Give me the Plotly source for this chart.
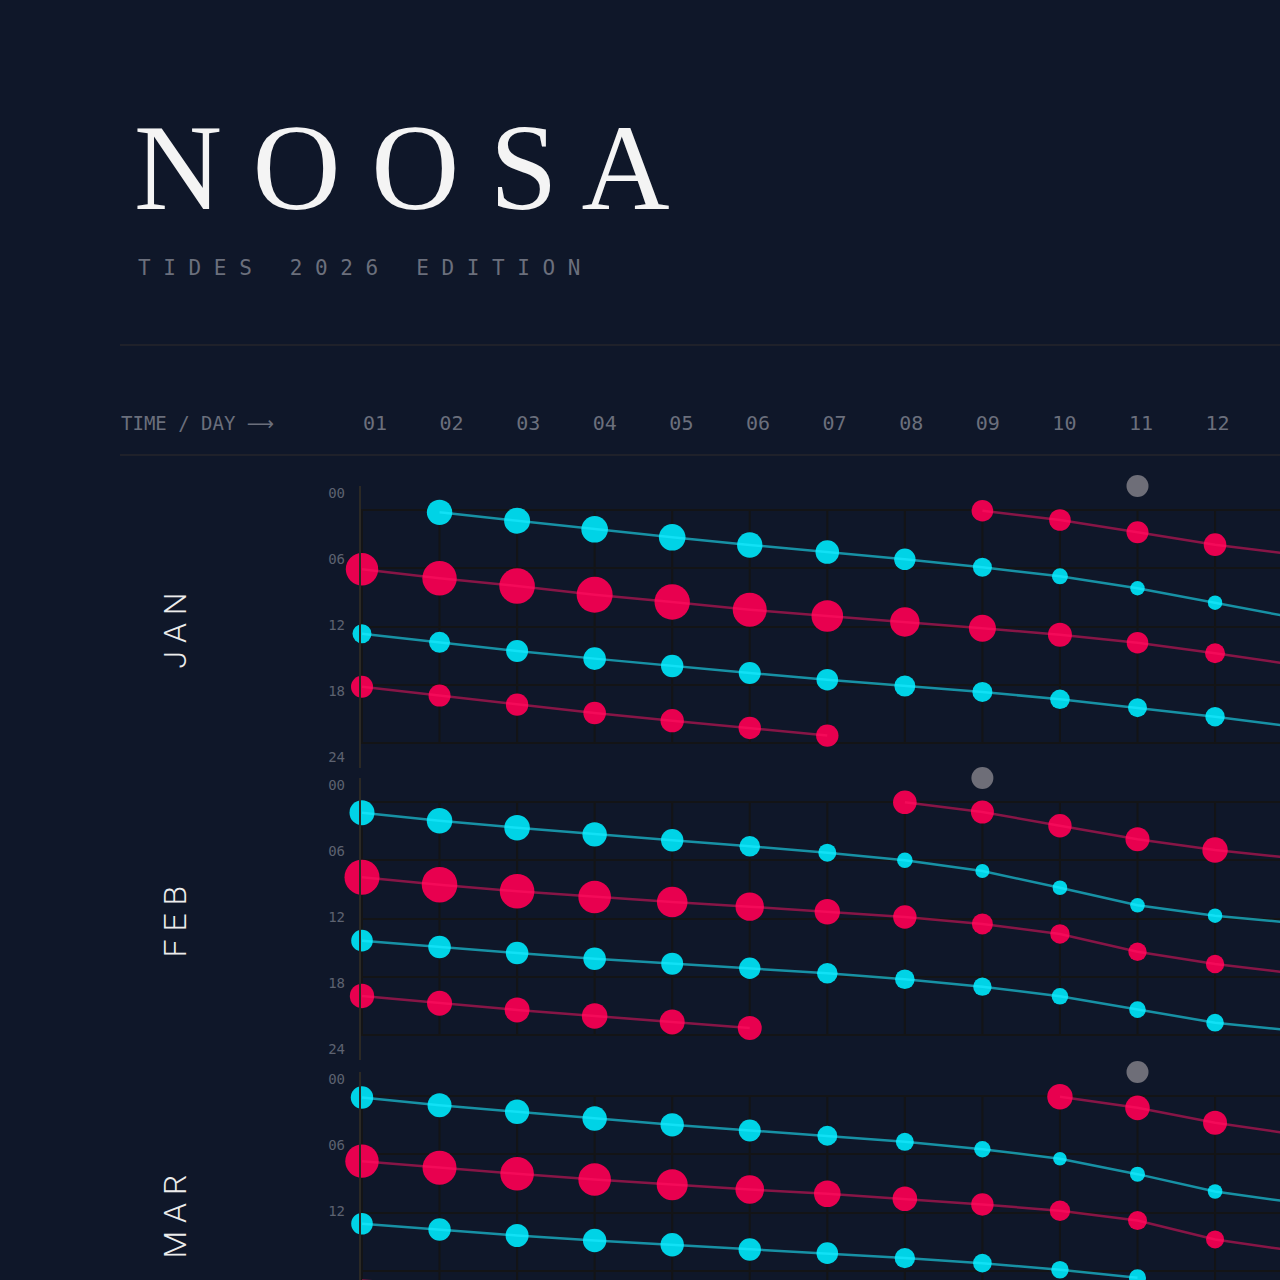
import plotly.graph_objects as go

# ---------------- colours / fonts ----------------
BG = "#0f1729"
CYAN = "#00d3e6"
RED = "#e8004f"
MOON = "#6e6e78"
CYAN_LINE = "rgba(30,235,255,0.58)"
RED_LINE = "rgba(255,20,100,0.5)"
GRID = "#131416"
AXIS = "#2b2925"
MUTED = "#6b6f7c"
MONO = "DejaVu Sans Mono"

# ---------------- categories / labels ----------------
MONTHS = ["J A N", "F E B", "M A R"]
HEADER_DAYS = list(range(1, 13))
HEADER_LABELS = ["01", "02", "03", "04", "05", "06", "07", "08", "09", "10", "11", "12"]
GRID_DAYS = list(range(1, 14))
HOUR_TICKS = [0, 6, 12, 18, 24]
HOUR_LABELS = ["00", "06", "12", "18", "24"]
MOON_DAYS = [11, 9, 11]          # moon-phase marker day per month
SIZE_PER_M = 20                  # marker diameter (px) per metre of tide

# ---------------- JAN ----------------
jan_low_a_days = list(range(2, 14))
jan_low_a_hours = [0.24, 1.10, 1.99, 2.81, 3.60, 4.33, 5.08, 5.90, 6.83, 8.06, 9.55, 11.07]
jan_low_a_m = [1.27, 1.30, 1.33, 1.33, 1.27, 1.18, 1.07, 0.95, 0.80, 0.72, 0.72, 0.72]

jan_high_b_days = list(range(1, 14))
jan_high_b_hours = [6.11, 7.03, 7.83, 8.72, 9.47, 10.27, 10.92, 11.53, 12.18, 12.84, 13.67, 14.76, 15.92]
jan_high_b_m = [1.62, 1.72, 1.78, 1.80, 1.77, 1.70, 1.58, 1.47, 1.35, 1.20, 1.08, 1.00, 0.95]

jan_low_c_days = list(range(1, 14))
jan_low_c_hours = [12.74, 13.63, 14.52, 15.31, 16.07, 16.79, 17.48, 18.13, 18.74, 19.50, 20.36, 21.29, 22.32]
jan_low_c_m = [0.95, 1.05, 1.10, 1.13, 1.12, 1.10, 1.08, 1.05, 1.00, 0.98, 0.95, 0.97, 0.97]

jan_high_d_days = list(range(1, 8))
jan_high_d_hours = [18.20, 19.12, 20.05, 20.91, 21.70, 22.45, 23.24]
jan_high_d_m = [1.10, 1.10, 1.12, 1.13, 1.17, 1.12, 1.12]

jan_high_e_days = list(range(9, 14))
jan_high_e_hours = [0.07, 1.03, 2.30, 3.57, 4.56]
jan_high_e_m = [1.08, 1.08, 1.10, 1.13, 1.15]

# ---------------- FEB ----------------
feb_low_a_days = list(range(1, 14))
feb_low_a_hours = [1.10, 1.93, 2.65, 3.33, 3.94, 4.56, 5.22, 6.00, 7.11, 8.83, 10.64, 11.71, 12.45]
feb_low_a_m = [1.25, 1.28, 1.28, 1.22, 1.12, 1.03, 0.90, 0.78, 0.70, 0.73, 0.73, 0.72, 0.70]

feb_high_b_days = list(range(1, 14))
feb_high_b_hours = [7.75, 8.52, 9.20, 9.78, 10.30, 10.78, 11.30, 11.84, 12.56, 13.59, 15.42, 16.68, 17.64]
feb_high_b_m = [1.75, 1.78, 1.73, 1.63, 1.53, 1.42, 1.27, 1.17, 1.05, 0.97, 0.92, 0.92, 0.90]

feb_low_c_days = list(range(1, 14))
feb_low_c_hours = [14.28, 14.93, 15.55, 16.14, 16.65, 17.13, 17.64, 18.26, 19.02, 20.01, 21.39, 22.73, 23.54]
feb_low_c_m = [1.08, 1.13, 1.13, 1.13, 1.10, 1.07, 1.03, 0.98, 0.92, 0.83, 0.83, 0.88, 0.88]

feb_high_d_days = list(range(1, 7))
feb_high_d_hours = [19.98, 20.73, 21.42, 22.04, 22.66, 23.28]
feb_high_d_m = [1.22, 1.25, 1.25, 1.28, 1.25, 1.20]

feb_high_e_days = list(range(8, 14))
feb_high_e_hours = [0.03, 1.03, 2.44, 3.84, 4.94, 5.78]
feb_high_e_m = [1.18, 1.15, 1.17, 1.20, 1.27, 1.28]

# ---------------- MAR ----------------
mar_low_a_days = list(range(1, 14))
mar_low_a_hours = [0.15, 0.95, 1.63, 2.32, 2.97, 3.55, 4.10, 4.72, 5.48, 6.47, 8.05, 9.84, 10.95]
mar_low_a_m = [1.12, 1.20, 1.22, 1.22, 1.17, 1.10, 1.00, 0.90, 0.82, 0.68, 0.75, 0.73, 0.72]

mar_high_b_days = list(range(1, 14))
mar_high_b_hours = [6.71, 7.39, 8.01, 8.60, 9.15, 9.63, 10.07, 10.59, 11.17, 11.82, 12.82, 14.78, 15.93]
mar_high_b_m = [1.67, 1.70, 1.68, 1.63, 1.55, 1.43, 1.33, 1.23, 1.12, 1.02, 0.95, 0.90, 0.90]

mar_low_c_days = list(range(1, 12))
mar_low_c_hours = [13.16, 13.75, 14.37, 14.88, 15.32, 15.81, 16.19, 16.70, 17.22, 17.90, 18.72]
mar_low_c_m = [1.08, 1.12, 1.15, 1.17, 1.17, 1.12, 1.08, 1.02, 0.93, 0.87, 0.85]

mar_high_d_days = [1, 2]
mar_high_d_hours = [19.0, 19.6]
mar_high_d_m = [1.20, 1.20]

mar_high_e_days = list(range(10, 14))
mar_high_e_hours = [0.08, 1.22, 2.76, 3.92]
mar_high_e_m = [1.27, 1.23, 1.20, 1.20]

SERIES = [
    (0, "low", jan_low_a_days, jan_low_a_hours, jan_low_a_m),
    (0, "high", jan_high_b_days, jan_high_b_hours, jan_high_b_m),
    (0, "low", jan_low_c_days, jan_low_c_hours, jan_low_c_m),
    (0, "high", jan_high_d_days, jan_high_d_hours, jan_high_d_m),
    (0, "high", jan_high_e_days, jan_high_e_hours, jan_high_e_m),
    (1, "low", feb_low_a_days, feb_low_a_hours, feb_low_a_m),
    (1, "high", feb_high_b_days, feb_high_b_hours, feb_high_b_m),
    (1, "low", feb_low_c_days, feb_low_c_hours, feb_low_c_m),
    (1, "high", feb_high_d_days, feb_high_d_hours, feb_high_d_m),
    (1, "high", feb_high_e_days, feb_high_e_hours, feb_high_e_m),
    (2, "low", mar_low_a_days, mar_low_a_hours, mar_low_a_m),
    (2, "high", mar_high_b_days, mar_high_b_hours, mar_high_b_m),
    (2, "low", mar_low_c_days, mar_low_c_hours, mar_low_c_m),
    (2, "high", mar_high_d_days, mar_high_d_hours, mar_high_d_m),
    (2, "high", mar_high_e_days, mar_high_e_hours, mar_high_e_m),
]

MARKER_COL = {"low": CYAN, "high": RED}
LINE_COL = {"low": CYAN_LINE, "high": RED_LINE}
XA = ["x", "x2", "x3"]
YA = ["y", "y2", "y3"]
YL = ["y4", "y5", "y6"]          # label axes overlaying each panel

# ---------------- layout geometry (pixels of a 1280 canvas) ----------------
W = H = 1280
PLOT_LEFT = 361
PX_PER_DAY = 77.55
PX_PER_HOUR = 9.708
PANEL_TOPS = [486, 778, 1072]
PANEL_H = 282
GRID_TOP_PAD = 24            # px from panel top to hour 0
LABEL_TOP_PAD = 7            # px from panel top to "00" label
LABEL_PX_PER_HOUR = 11.0

fig = go.Figure()

for p, kind, d, h, m in SERIES:
    fig.add_trace(go.Scatter(
        x=d, y=h, mode="markers", xaxis=XA[p], yaxis=YA[p],
        marker=dict(size=[v * SIZE_PER_M for v in m], color=MARKER_COL[kind],
                    opacity=1, line=dict(width=0)),
        cliponaxis=False, showlegend=False, hoverinfo="skip"))

for p, kind, d, h, m in SERIES:
    fig.add_trace(go.Scatter(
        x=d, y=h, mode="lines", xaxis=XA[p], yaxis=YA[p],
        line=dict(color=LINE_COL[kind], width=2.5),
        showlegend=False, hoverinfo="skip"))

y_top_hour = -GRID_TOP_PAD / PX_PER_HOUR
for p, md in enumerate(MOON_DAYS):
    fig.add_trace(go.Scatter(
        x=[md], y=[y_top_hour], mode="markers", xaxis=XA[p], yaxis=YA[p],
        marker=dict(size=22, color=MOON, opacity=1, line=dict(width=0)),
        cliponaxis=False, showlegend=False, hoverinfo="skip"))

# invisible anchors so the label axes get drawn
for p in range(3):
    fig.add_trace(go.Scatter(x=[HEADER_DAYS[0]], y=[HOUR_TICKS[0]], mode="markers",
                             xaxis=XA[p], yaxis=YL[p], marker=dict(size=1, opacity=0),
                             showlegend=False, hoverinfo="skip"))
fig.add_trace(go.Scatter(x=[HEADER_DAYS[0]], y=[HOUR_TICKS[0]], mode="markers",
                         xaxis="x4", yaxis="y7", marker=dict(size=1, opacity=0),
                         showlegend=False, hoverinfo="skip"))

x0 = 1 - (362 - PLOT_LEFT) / PX_PER_DAY
x1 = 1 + (W - 362) / PX_PER_DAY
layout = dict(
    width=W, height=H, autosize=False,
    margin=dict(l=0, r=0, t=0, b=0, pad=0),
    paper_bgcolor=BG, plot_bgcolor="rgba(0,0,0,0)",
    showlegend=False,
)

shapes = []
for p in range(3):
    top = PANEL_TOPS[p]
    bottom = min(top + PANEL_H, H)
    dom = [1 - bottom / H, 1 - top / H]
    ax_suffix = "" if p == 0 else str(p + 1)
    r_top = -GRID_TOP_PAD / PX_PER_HOUR
    r_bot = r_top + (bottom - top) / PX_PER_HOUR
    layout["xaxis" + ax_suffix] = dict(
        domain=[PLOT_LEFT / W, 1], range=[x0, x1], anchor=YA[p],
        showgrid=False, zeroline=False, showticklabels=False, showline=False, ticks="")
    layout["yaxis" + ax_suffix] = dict(
        domain=dom, range=[r_bot, r_top], anchor=XA[p],
        tickvals=HOUR_TICKS, showticklabels=False, ticks="",
        showgrid=True, gridcolor=GRID, gridwidth=2, zeroline=False,
        showline=True, linecolor=AXIS, linewidth=2)
    l_top = -LABEL_TOP_PAD / LABEL_PX_PER_HOUR
    l_bot = l_top + (bottom - top) / LABEL_PX_PER_HOUR
    layout["yaxis" + str(p + 4)] = dict(
        overlaying=YA[p], anchor=XA[p], side="left", range=[l_bot, l_top],
        tickvals=HOUR_TICKS, ticktext=HOUR_LABELS, showgrid=False, zeroline=False,
        showline=False, ticks="", ticklabelstandoff=15,
        tickfont=dict(family=MONO, size=14, color="#5d6270"))
    for d in GRID_DAYS:
        shapes.append(dict(type="line", xref=XA[p], yref=YA[p], x0=d, x1=d,
                           y0=HOUR_TICKS[0], y1=HOUR_TICKS[-1], layer="below",
                           line=dict(color=GRID, width=2)))

# header day axis (its own scale)
HDR_PX_DAY1 = 375
HDR_PX_PER_DAY = 76.6
layout["xaxis4"] = dict(
    domain=[0, 1], anchor="free", position=1 - 434 / H, side="top",
    range=[1 - HDR_PX_DAY1 / HDR_PX_PER_DAY, 1 + (W - HDR_PX_DAY1) / HDR_PX_PER_DAY],
    tickvals=HEADER_DAYS, ticktext=HEADER_LABELS, showgrid=False, zeroline=False,
    showline=False, ticks="", tickfont=dict(family=MONO, size=20, color=MUTED))
layout["yaxis7"] = dict(domain=[1 - 440 / H, 1 - 430 / H], anchor="x4", visible=False,
                        showgrid=False, zeroline=False)

shapes.append(dict(type="line", xref="paper", yref="paper", x0=120 / W, x1=1,
                   y0=1 - 345 / H, y1=1 - 345 / H, line=dict(color="#26262b", width=1.5)))
shapes.append(dict(type="line", xref="paper", yref="paper", x0=120 / W, x1=1,
                   y0=1 - 455 / H, y1=1 - 455 / H, line=dict(color="#26262b", width=1.5)))
layout["shapes"] = shapes

ann = [
    dict(text="N O O S A", xref="paper", yref="paper", x=132 / W, y=1 - 167 / H,
         xanchor="left", yanchor="middle", showarrow=False,
         font=dict(family="Liberation Serif", size=122, color="#f4f4f4")),
    dict(text="T I D E S \u00a0 2 0 2 6 \u00a0 E D I T I O N", xref="paper", yref="paper",
         x=136 / W, y=1 - 268 / H, xanchor="left", yanchor="middle", showarrow=False,
         font=dict(family=MONO, size=21, color=MUTED)),
    dict(text="TIME / DAY <span style='font-family:DejaVu Sans'>\u27f6</span>",
         xref="paper", yref="paper", x=119 / W, y=1 - 423 / H,
         xanchor="left", yanchor="middle", showarrow=False,
         font=dict(family=MONO, size=19, color=MUTED)),
]
for p, name in enumerate(MONTHS):
    ann.append(dict(text=name, xref="paper", yref=YA[p], x=175 / W, y=12.4,
                    xanchor="center", yanchor="middle", textangle=-90, showarrow=False,
                    font=dict(family="Roboto", size=32, color="#ececec", weight=300)))
layout["annotations"] = ann

fig.update_layout(**layout)
fig.write_html("out.html", config={"displayModeBar": False},
               post_script="document.body.style.margin='0';document.body.style.overflow='hidden';")
